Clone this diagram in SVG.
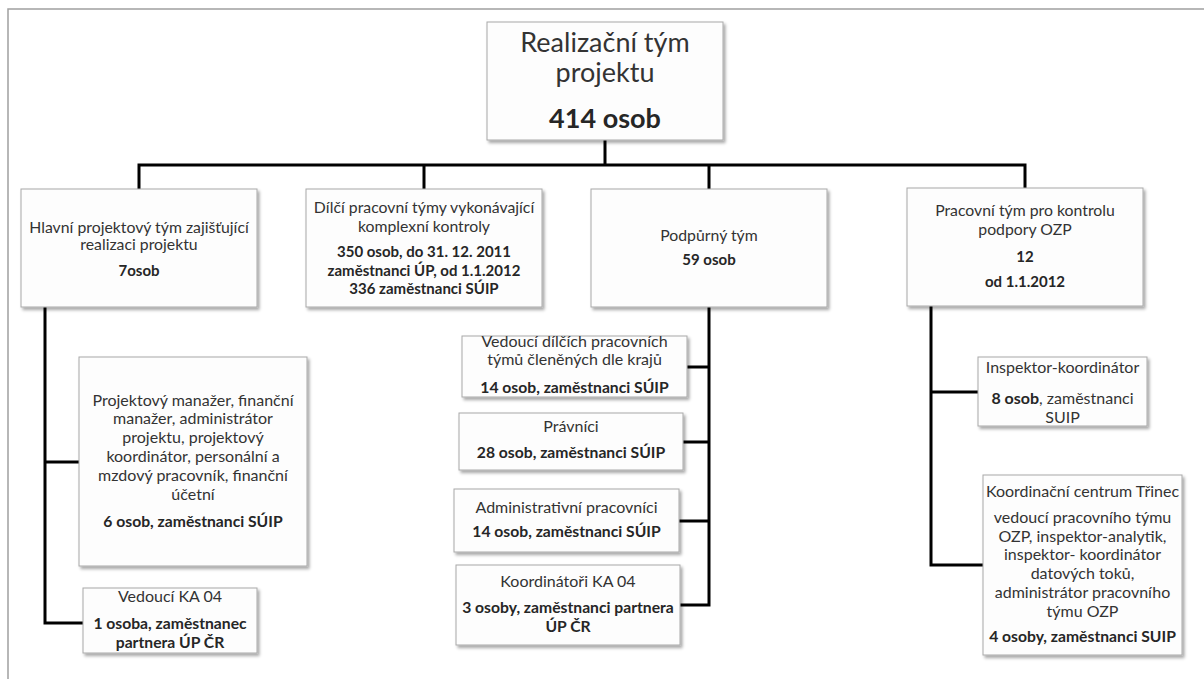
<svg xmlns="http://www.w3.org/2000/svg" width="1204" height="679" viewBox="0 0 1204 679">
<defs>
<filter id="sh" x="-5%" y="-5%" width="115%" height="120%">
<feDropShadow dx="2" dy="2.5" stdDeviation="1.5" flood-color="#000" flood-opacity="0.35"/>
</filter>
<style>
.box{fill:#fdfdfd;stroke:#a8a8a8;stroke-width:1;filter:url(#sh)}
.c{fill:none;stroke:#000;stroke-width:3;stroke-linecap:square}
text{font-family:Lato,"Open Sans","Liberation Sans",sans-serif;fill:#262626;text-anchor:middle}
.r{font-size:15.8px;fill:#333}
.b{font-size:15px;font-weight:bold}
.r16{font-size:16px;fill:#333}
.b16{font-size:15.7px;font-weight:bold}
</style>
</defs>
<rect x="8" y="9" width="1300" height="700" fill="#fff" stroke="#a0a0a0" stroke-width="1.5"/>
<g id="connectors">
<path class="c" d="M605,140 V165 M139,165 H1025 M139,165 V189 M424,165 V189 M709,165 V189 M1025,165 V188"/>
<path class="c" d="M45,307 V623 M45,462 H79 M45,623 H83"/>
<path class="c" d="M709,307 V605 M709,367 H687 M709,442 H683 M709,521 H679 M709,605 H680"/>
<path class="c" d="M931,306 V565 M931,392 H978 M931,565 H983"/>
</g>
<g id="root">
<rect class="box" x="487" y="22" width="236" height="118"/>
<text x="605" y="52" style="font-size:27px;fill:#333">Realizační tým</text>
<text x="605" y="82" style="font-size:27px;fill:#333">projektu</text>
<text x="605" y="128" style="font-size:27px;font-weight:bold">414 osob</text>
</g>
<g id="hlavni">
<rect class="box" x="21" y="189" width="236" height="118"/>
<text class="r" x="139" y="233">Hlavní projektový tým zajišťující</text>
<text class="r" x="139" y="250">realizaci projektu</text>
<text class="b" x="139" y="276">7osob</text>
</g>
<g id="dilci">
<rect class="box" x="306" y="189" width="236" height="118"/>
<text class="r" x="424" y="213">Dílčí pracovní týmy vykonávající</text>
<text class="r" x="424" y="232">komplexní kontroly</text>
<text class="b" x="424" y="257">350 osob, do 31. 12. 2011</text>
<text class="b" x="424" y="276">zaměstnanci ÚP, od 1.1.2012</text>
<text class="b" x="424" y="294">336 zaměstnanci SÚIP</text>
</g>
<g id="podpurny">
<rect class="box" x="591" y="189" width="236" height="118"/>
<text class="r" x="709" y="241">Podpůrný tým</text>
<text class="b" x="709" y="265">59 osob</text>
</g>
<g id="ozp">
<rect class="box" x="907" y="188" width="236" height="118"/>
<text class="r" x="1025" y="216">Pracovní tým pro kontrolu</text>
<text class="r" x="1025" y="235">podpory OZP</text>
<text class="b" x="1025" y="262">12</text>
<text class="b" x="1025" y="287">od 1.1.2012</text>
</g>
<g id="manazeri">
<rect class="box" x="79" y="357" width="228" height="209"/>
<text class="r16" x="193" y="406">Projektový manažer, finanční</text>
<text class="r16" x="193" y="424">manažer, administrátor</text>
<text class="r16" x="193" y="443">projektu, projektový</text>
<text class="r16" x="193" y="462">koordinátor, personální a</text>
<text class="r16" x="193" y="481">mzdový pracovník, finanční</text>
<text class="r16" x="193" y="500">účetní</text>
<text class="b16" x="193" y="527">6 osob, zaměstnanci SÚIP</text>
</g>
<g id="vedouci-ka04">
<rect class="box" x="83" y="588" width="174" height="65"/>
<text class="r16" x="170" y="602">Vedoucí KA 04</text>
<text class="b16" x="170" y="629">1 osoba, zaměstnanec</text>
<text class="b16" x="170" y="648">partnera ÚP ČR</text>
</g>
<g id="vedouci-tymu">
<rect class="box" x="462" y="336" width="225" height="61"/>
<text class="r16" x="574.5" y="347">Vedoucí dílčích pracovních</text>
<text class="r16" x="574.5" y="365">týmů členěných dle krajů</text>
<text class="b16" x="574.5" y="393">14 osob, zaměstnanci SÚIP</text>
</g>
<g id="pravnici">
<rect class="box" x="459" y="413" width="224" height="57"/>
<text class="r16" x="571" y="432">Právníci</text>
<text class="b16" x="571" y="458">28 osob, zaměstnanci SÚIP</text>
</g>
<g id="administrativni">
<rect class="box" x="454" y="489" width="225" height="63"/>
<text class="r16" x="566.5" y="513">Administrativní pracovníci</text>
<text class="b16" x="566.5" y="537">14 osob, zaměstnanci SÚIP</text>
</g>
<g id="koordinatori">
<rect class="box" x="456" y="565" width="224" height="80"/>
<text class="r16" x="568" y="587">Koordinátoři KA 04</text>
<text class="b16" x="568" y="613">3 osoby, zaměstnanci partnera</text>
<text class="b16" x="568" y="632">ÚP ČR</text>
</g>
<g id="inspektor">
<rect class="box" x="978" y="357" width="169" height="69"/>
<text class="r16" x="1062.5" y="373">Inspektor-koordinátor</text>
<text class="r16" x="1062.5" y="404"><tspan font-weight="bold" fill="#262626">8 osob</tspan>, zaměstnanci</text>
<text class="r16" x="1062.5" y="423">SUIP</text>
</g>
<g id="trinec">
<rect class="box" x="983" y="475" width="199" height="180"/>
<text class="r16" x="1082.5" y="497">Koordinační centrum Třinec</text>
<text class="r16" x="1082.5" y="523">vedoucí pracovního týmu</text>
<text class="r16" x="1082.5" y="542">OZP,  inspektor-analytik,</text>
<text class="r16" x="1082.5" y="560">inspektor- koordinátor</text>
<text class="r16" x="1082.5" y="579">datových toků,</text>
<text class="r16" x="1082.5" y="598">administrátor pracovního</text>
<text class="r16" x="1082.5" y="617">týmu OZP</text>
<text class="b16" x="1082.5" y="642">4 osoby, zaměstnanci SUIP</text>
</g>
</svg>
